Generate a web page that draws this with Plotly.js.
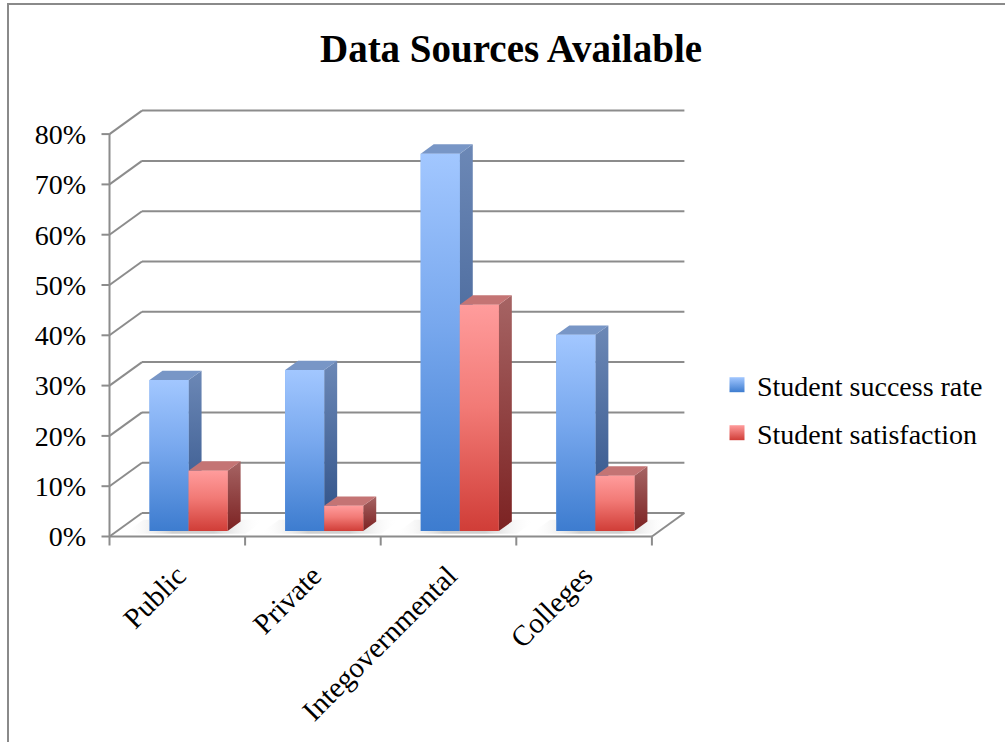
<!DOCTYPE html>
<html><head><meta charset="utf-8">
<script src="https://cdn.plot.ly/plotly-3.0.1.min.js"></script>
<style>
html,body{margin:0;padding:0;background:#fff}
#wrap{position:relative;width:1005px;height:742px;overflow:hidden}
#chart{width:1005px;height:742px}
#frame{position:absolute;left:7px;top:3px;width:1100px;height:800px;border-left:2px solid #8a8a8a;border-top:2px solid #8a8a8a;pointer-events:none}
</style>
</head><body><div id="wrap"><div id="chart"></div><div id="frame"></div></div>
<script>
// ---- data ----
const categories = ['Public', 'Private', 'Integovernmental', 'Colleges'];
const successRate = [30, 32, 75, 39];
const satisfaction = [12, 5, 45, 11];
const seriesNames = ['Student success rate', 'Student satisfaction'];
const yTickValues = [0, 10, 20, 30, 40, 50, 60, 70, 80];
const yTickLabels = ['0%', '10%', '20%', '30%', '40%', '50%', '60%', '70%', '80%'];

// ---- styling / 3D projection ----
const FONT = 'Liberation Serif';
const GRID = '#8c8c8c';
const PX_U = 135.6, PX_V = 5.03;      // pixels per category, per percent
const U0PX = 109.5, V0PX = 536.5;     // pixel of front-plane origin
const DX = 32.5 / PX_U, DY = 23.5 / PX_V; // depth offset of back wall
const OFF = 0.239, BW = 0.288, Z0 = 0.234, Z1 = 0.634;
const L = 100, R = 692, T = 104, B = 547;
const xRange = [(L - U0PX) / PX_U, (R - U0PX) / PX_U];
const yRange = [-(B - V0PX) / PX_V, (V0PX - T) / PX_V];
const pxX = p => (p - L) / (R - L);
const pxY = p => (B - p) / (B - T);

const styles = [
  {front: ['#3d7ccf', '#78a8ee', '#a2c7ff'], side: ['#2d4f86', '#6c88b6'], top: '#7896c6', mid: '#6b9fe8'},
  {front: ['#d03d37', '#f27a76', '#ff9c9c'], side: ['#7c2222', '#a66464'], top: '#c47474', mid: '#f07070'}
];
const seriesValues = [successRate, satisfaction];
const nCat = categories.length;
const P = (x, y, z) => [x + z * DX, y + z * DY];

const traces = [];

function poly(pts, extra) {
  const xs = pts.map(p => p[0]), ys = pts.map(p => p[1]);
  xs.push(xs[0]); ys.push(ys[0]);
  return Object.assign({type: 'scatter', mode: 'lines', x: xs, y: ys, fill: 'toself',
    line: {width: 0}, showlegend: false, hoverinfo: 'skip'}, extra);
}

// soft floor shadows under each bar pair
for (let i = 0; i < nCat; i++) {
  const a = i + OFF - 0.16, b = i + OFF + 2 * BW + 0.16;
  const sh = [P(a, 0, 0.12), P(b, 0, 0.12), P(b, 0, Z1 + 0.08), P(a, 0, Z1 + 0.08)];
  traces.push(poly(sh, {fillcolor: '#e0e0e0', fillgradient: {type: 'horizontal',
    colorscale: [[0, 'rgba(255,255,255,0)'], [0.35, '#cfcfcf'], [0.65, '#cfcfcf'], [1, 'rgba(255,255,255,0)']],
    start: a + 0.12 * DX, stop: b + Z1 * DX}}));
}

// data bars (front faces, through the bar trace)
seriesValues.forEach((vals, s) => {
  traces.push({
    type: 'bar', name: seriesNames[s],
    x: vals.map((v, i) => i + OFF + s * BW + BW / 2 + Z0 * DX),
    y: vals, base: vals.map(() => Z0 * DY), width: vals.map(() => BW),
    marker: {color: styles[s].mid, line: {width: 0}},
    showlegend: false, hoverinfo: 'skip'
  });
});

for (let i = 0; i < nCat; i++) {
  seriesValues.forEach((vals, s) => {
    const h = vals[i];
    const x0 = i + OFF + s * BW, x1 = x0 + BW;
    const st = styles[s];
    const side = [P(x1, 0, Z0), P(x1, 0, Z1), P(x1, h, Z1), P(x1, h, Z0)];
    traces.push(poly(side, {fillcolor: st.side[1], fillgradient: {type: 'vertical',
      colorscale: [[0, st.side[0]], [1, st.side[1]]], start: Z0 * DY, stop: h + Z1 * DY}}));
    const top = [P(x0, h, Z0), P(x1, h, Z0), P(x1, h, Z1), P(x0, h, Z1)];
    traces.push(poly(top, {fillcolor: st.top}));
    const front = [P(x0, 0, Z0), P(x1, 0, Z0), P(x1, h, Z0), P(x0, h, Z0)];
    traces.push(poly(front, {fillcolor: st.mid, fillgradient: {type: 'vertical',
      colorscale: [[0, st.front[0]], [0.55, st.front[1]], [1, st.front[2]]],
      start: Z0 * DY, stop: h + Z0 * DY}}));
  });
}

// legend entries
seriesNames.forEach((n, s) => {
  traces.push({type: 'scatter', mode: 'markers', x: [null], y: [null], name: n,
    legend: s === 0 ? 'legend' : 'legend2', hoverinfo: 'skip',
    marker: {symbol: 'square', size: 15, color: styles[s].front[2],
      gradient: {type: 'vertical', color: styles[s].front[0]}, line: {width: 0}}});
});

// ---- axes frame as shapes ----
const shapes = [];
const line = (x0, y0, x1, y1) => ({type: 'line', xref: 'x', yref: 'y', x0, y0, x1, y1,
  layer: 'below', line: {color: GRID, width: 2}});
yTickValues.forEach(v => {
  shapes.push(line(0, v, DX, v + DY));
  shapes.push(line(DX, v + DY, nCat + DX, v + DY));
  shapes.push(line(-8 / PX_U, v, 0, v));
});
shapes.push(line(0, 0, 0, yTickValues[yTickValues.length - 1]));
shapes.push(line(0, 0, nCat, 0));
shapes.push(line(nCat, 0, nCat + DX, DY));
for (let b = 0; b <= nCat; b++) shapes.push(line(b, 0, b, -9 / PX_V));

const layout = {
  width: 1005, height: 742, autosize: false,
  paper_bgcolor: '#fff', plot_bgcolor: 'rgba(0,0,0,0)',
  margin: {l: L, r: 1005 - R, t: T, b: 742 - B, pad: 0},
  font: {family: FONT, color: '#000', size: 24},
  title: {text: '<b>Data Sources Available</b>', font: {family: FONT, size: 39, color: '#000'},
    xref: 'container', x: 511 / 1005, xanchor: 'center', yref: 'container', y: 1 - 48 / 742, yanchor: 'middle'},
  xaxis: {range: xRange, showgrid: false, zeroline: false, showline: false, ticks: '',
    tickvals: categories.map((c, i) => i + 0.5), ticktext: categories, tickangle: -45,
    tickfont: {family: FONT, size: 29}, ticklabelstandoff: 5, fixedrange: true},
  yaxis: {range: yRange, showgrid: false, zeroline: false, showline: false, ticks: '',
    tickvals: yTickValues, ticktext: yTickLabels, tickfont: {family: FONT, size: 28},
    ticklabelstandoff: 13, fixedrange: true},
  barmode: 'overlay',
  showlegend: true,
  legend: {x: pxX(717), y: pxY(385), xanchor: 'left', yanchor: 'middle', font: {family: FONT, size: 28},
    bgcolor: 'rgba(0,0,0,0)'},
  legend2: {x: pxX(717), y: pxY(433), xanchor: 'left', yanchor: 'middle', font: {family: FONT, size: 28},
    bgcolor: 'rgba(0,0,0,0)'},
  shapes: shapes
};
Plotly.newPlot('chart', traces, layout, {displayModeBar: false, staticPlot: true});
</script>
</body></html>
